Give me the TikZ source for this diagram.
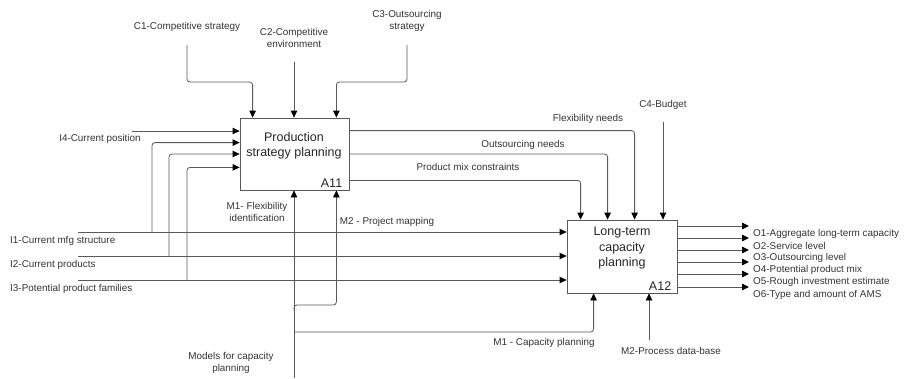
\documentclass[tikz,border=0pt]{standalone}
\usepackage{fontspec}
\setmainfont{Liberation Sans}
\usepackage{tikz}
\usetikzlibrary{positioning,calc,arrows.meta}

\begin{document}
\begin{tikzpicture}[x=1pt,y=-1pt,
    activity/.style={draw=black!65, line width=0.8pt, fill=white, inner sep=0pt},
    flow/.style={draw=black!65, line width=0.8pt, rounded corners=3pt,
        -{Triangle[length=7pt,width=6.5pt,black]}},
    lbl/.style={font=\fontsize{9.9}{11.5}\selectfont, text=black!80, inner sep=0pt, align=center},
    boxtext/.style={font=\fontsize{12.5}{15.5}\selectfont, text=black!85, inner sep=0pt, align=center}]
    \useasboundingbox (0,0) rectangle (905,378);

    % Activities
    \node[activity, minimum width=109pt, minimum height=72pt] (A11) at (294.5,154) {};
    \node[boxtext] at (294,146) {Production\\strategy planning};
    \node[boxtext, anchor=south east] at ([xshift=-7pt,yshift=3pt]A11.south east) {A11};

    \node[activity, minimum width=110pt, minimum height=73pt] (A12) at (622,256.5) {};
    \node[boxtext] at (622,248) {Long-term\\capacity\\planning};
    \node[boxtext, anchor=south east] at ([xshift=-6pt,yshift=3pt]A12.south east) {A12};

    % Free ends
    \coordinate (c1) at (187,45);
    \coordinate (c2) at (294,62);
    \coordinate (c3) at (407,45);
    \coordinate (c4) at (663,122);
    \coordinate (i4) at (132,131);
    \coordinate (i1) at (78,232);
    \coordinate (i2) at (78,256);
    \coordinate (i3) at (78,280);
    \coordinate (j1) at (152,232);
    \coordinate (j2) at (169,256);
    \coordinate (j3) at (187,280);
    \coordinate (m0) at (294,378);
    \coordinate (j4) at (294,310);
    \coordinate (j5) at (294,332);
    \coordinate (m2) at (649,340);

    % Labels
    \node[lbl] (lc1) at (187,27) {C1-Competitive strategy};
    \node[lbl] (lc2) at (294,38) {C2-Competitive\\environment};
    \node[lbl] (lc3) at (407,21) {C3-Outsourcing\\strategy};
    \node[lbl] (lc4) at (663,105) {C4-Budget};
    \node[lbl] (li4) at (100,139) {I4-Current position};
    \node[lbl, anchor=west] (li1) at (10,241) {I1-Current mfg structure};
    \node[lbl, anchor=west] (li2) at (10,265) {I2-Current products};
    \node[lbl, anchor=west] (li3) at (10,289) {I3-Potential product families};
    \node[lbl] (lm11) at (257,212) {M1- Flexibility\\identification};
    \node[lbl] (lm12) at (387,222) {M2 - Project mapping};
    \node[lbl] (lmod) at (231,363) {Models for capacity\\planning};
    \node[lbl] (lm21) at (544,343) {M1 - Capacity planning};
    \node[lbl] (lm22) at (671,351) {M2-Process data-base};
    \node[lbl] (lfn) at (588,119) {Flexibility needs};
    \node[lbl] (lon) at (523,145) {Outsourcing needs};
    \node[lbl] (lpm) at (468,167) {Product mix constraints};

    % Controls
    \draw[flow] (c1) -- ++(0,37) -| ([xshift=13pt]A11.north west);
    \draw[flow] (c2) -- (c2 |- A11.north);
    \draw[flow] (c3) -- ++(0,37) -| ([xshift=-13pt]A11.north east);
    \draw[flow] (c4) -- (c4 |- A12.north);

    % Inputs
    \draw[flow] (i4) -- (i4 -| A11.west);
    \draw[flow] (i1) -- (i1 -| A12.west);
    \draw[flow] (i2) -- (i2 -| A12.west);
    \draw[flow] (i3) -- (i3 -| A12.west);
    \draw[flow] (j1) |- ([yshift=-25pt]A11.north west);
    \draw[flow] (j2) |- (A11.west);
    \draw[flow] (j3) |- ([yshift=23pt]A11.south west);

    % A11 to A12
    \draw[flow] ([yshift=-13pt]A11.north east) -| ([xshift=68pt]A12.north west);
    \draw[flow] (A11.east) -| ([xshift=41pt]A12.north west);
    \draw[flow] ([yshift=10pt]A11.south east) -| ([xshift=14pt]A12.north west);

    % Mechanisms
    \draw[flow] (m0) -- (m0 |- A11.south);
    \draw[flow] (j4) -- ++(0,-5) -| ([xshift=-13pt]A11.south east);
    \draw[flow] (j5) -| ([xshift=27pt]A12.south west);
    \draw[flow] (m2) -- (m2 |- A12.south);

    % Outputs
    \foreach \dy/\txt [count=\i] in {6/O1-Aggregate long-term capacity, 18/O2-Service level,
        30/O3-Outsourcing level, 42/O4-Potential product mix,
        54/O5-Rough investment estimate, 67/O6-Type and amount of AMS}{
        \coordinate (o\i) at (749,220+\dy);
        \draw[flow] (A12.north east |- o\i) -- (o\i);
        \node[lbl, anchor=west] (lo\i) at (753,228+\dy) {\txt};
    }
\end{tikzpicture}
\end{document}
